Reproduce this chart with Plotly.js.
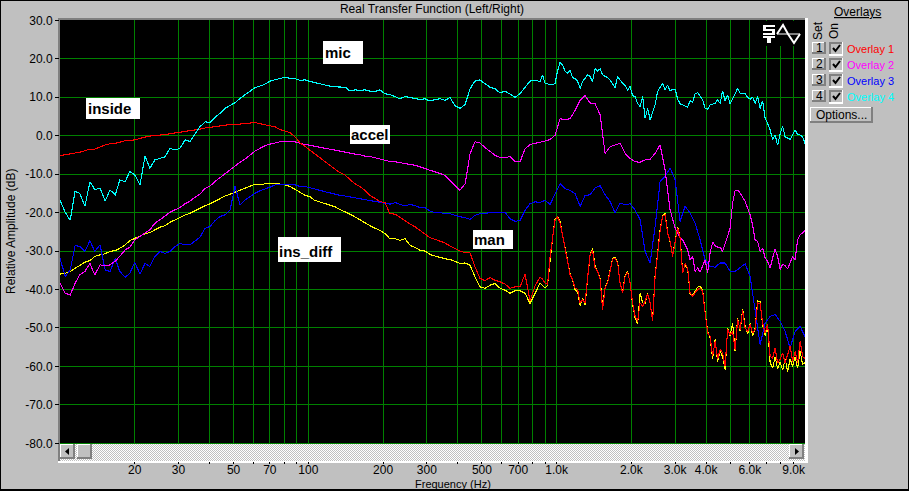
<!DOCTYPE html>
<html><head><meta charset="utf-8">
<script src="https://cdn.plot.ly/plotly-3.0.1.min.js"></script>
<style>
html,body{margin:0;padding:0;background:#c0c0c0;overflow:hidden}
#chart{width:909px;height:491px}
.scatterlayer path.js-line{shape-rendering:crispEdges}
</style></head><body><div id="chart"></div>
<script>
const freqs=[10,10.5,11,11.5,12,12.6,13.2,13.8,14.5,15.2,15.9,16.7,17.4,18.3,19.1,20,21,22,23,24.1,25.3,26.5,27.7,29.1,30.4,31.9,33.4,35,36.6,38.4,40.2,42.1,44.1,46.2,48.4,50.7,53.1,55.6,58.3,61,63.9,66.9,70.1,73.5,76.9,80.6,84.4,88.4,92.6,97,101.6,106,111,117,122,128,134,141,147,154,162,169,177,186,194,204,213,224,234,245,257,269,282,295,309,324,339,355,372,390,408,428,448,469,491,515,539,565,592,620,649,680,712,746,781,819,857,898,941,985,1032,1081,1132,1186,1243,1302,1363,1428,1496,1567,1641,1719,1800,1886,1976,2069,2168,2271,2379,2491,2609,2733,2863,2999,3141,3290,3446,3610,3781,3961,4149,4345,4552,4768,4994,5231,5480,5740,6012,6297,6596,6909,7237,7580,7940,8317,8711,9125,9557,10000];
const hfFreqs=[857,877,898,919,941,963,985,1008,1032,1056,1081,1106,1132,1159,1186,1214,1243,1272,1302,1332,1363,1395,1428,1462,1496,1531,1567,1604,1641,1680,1719,1760,1800,1843,1886,1931,1976,2022,2069,2118,2168,2219,2271,2325,2379,2435,2491,2550,2609,2670,2733,2797,2863,2930,2999,3070,3141,3215,3290,3368,3446,3528,3610,3695,3781,3870,3961,4055,4149,4247,4345,4448,4552,4659,4768,4880,4994,5111,5231,5355,5480,5609,5740,5875,6012,6153,6297,6445,6596,6752,6909,7072,7237,7408,7580,7758,7940,8127,8317,8514,8711,8918,9125,9340,9557,9780,10000];

const mic=[-16.7,-20,-22,-14.5,-15,-18.3,-12,-14,-13.7,-17,-14.1,-15.4,-11.5,-12,-9.3,-10.2,-12.8,-5.3,-8.5,-6.3,-5.9,-5.5,-3.3,-3.7,-3.3,-1.1,-1.5,0.6,2.3,3.6,3.4,4.8,5.8,7.1,7.9,8.6,9.7,10.7,11.7,12.5,12.9,13.4,14.2,14.6,14.9,15.2,14.9,14.8,
14.4,14.5,14.1,13.8,13.5,13.2,12.9,12.7,12.6,12.6,11.6,11.9,11.8,11.9,11.6,11.5,11.9,10.9,10.7,10,9.6,10.2,9.9,9.8,9.4,9.6,9,9.4,9.6,9.2,9.9,7.8,7.1,8.1,12.2,14.2,14.5,13.5,12.6,12.2,11.1,11.6,10.7,10,10.9,12.6,14.2,14.4];
const micHf=[14.1,15.8,13.6,13.5,13.2,13.2,13.6,16.8,19.1,18.4,16.8,16.2,17.1,15.1,14.8,14.2,12.3,14.1,14.9,15.8,15.4,14.1,17.5,16.8,17.4,15.8,15.4,15.1,14.5,13.6,12.5,15.4,14.5,13.6,13,11.9,12.8,10.4,10.2,8.4,7.6,10.2,4.5,7.1,4.1,6.3,8,11.5,12.5,13.6,11.9,13.2,11.6,12.1,12.1,9.5,8.3,8,7.6,7.4,9.1,8.6,10.9,11.2,10.3,9.3,7.1,6.9,8,8.3,8.4,9.3,8.4,11.7,9.1,10.6,8.3,9.5,10.9,12.3,11,11,10.9,10,9.5,10,8.4,10.2,7.1,9.1,4.5,3.2,1.5,-1,0.2,-2.5,0.5,2.4,-0.3,-0.6,-1,0.2,1.5,0.2,0.2,-0.3,-2];

const accel=[-38.4,-41,-41.4,-38.4,-36.2,-35.3,-33.2,-36.2,-33.6,-33.8,-33.6,-32.6,-31.4,-29.7,-29,-27.1,-26.2,-25.4,-24.5,-22.8,-21.9,-20.9,-19.9,-19.3,-18.7,-17.7,-17,-16,-15.2,-13.7,-13.1,-11.9,-10.9,-9.8,-8.9,-7.9,-6.9,-6.1,-5,-4,-3.3,-2.6,-2.2,-1.8,-1.6,-1.6,-1.5,-1.6,
-2,-2.3,-2.5,-2.8,-3,-3.3,-3.5,-3.8,-4.1,-4.3,-4.5,-4.8,-5,-5.3,-5.4,-5.7,-6,-6.4,-6.7,-6.8,-7,-7.3,-7.4,-7.7,-8.1,-8.6,-9,-9.4,-9.9,-10.3,-11.6,-12.9,-14.2,-12.5,-4.7,-1.6,-1.9,-3.1,-4.2,-5.1,-5.7,-5.8,-5.4,-6.8,-6.8,-3.4,-2.3,-1.9,-1.7,-1.4,-1,0.1,4.4,4.2,4.4,6.6,9.2,10.4,8.5,8.3,
5.4,-4.6,-2.9,-2.4,-2,-4.6,-5.9,-6.8,-6.9,-6.3,-6.1,-4.6,-2.4,-8.9,-19.3,-24];
const accelHf=[-26.6,-27.1,-28.6,-29.7,-32.3,-31.4,-35.3,-34.4,-35.5,-34,-32.3,-35.7,-30.5,-27.7,-28.6,-29,-29,-30.1,-28.4,-26.2,-24,-17.5,-14.2,-14.2,-14.9,-16.1,-17.1,-18.8,-20.6,-23.2,-27.1,-27.5,-30.1,-29.2,-31.8,-32.7,-34.4,-31.8,-29.5,-31.4,-34.8,-33.5,-33.8,-34.7,-33.1,-31.4,-32.3,-27.1,-25.8,-25.3,-24.7];

const overlay3=[-31.9,-36.6,-34.9,-28.6,-28.8,-30.1,-27.3,-30.1,-28.4,-34.9,-35.3,-31.9,-35.3,-36.8,-35.8,-32.9,-36,-33.2,-34,-31.4,-30.1,-30.6,-30.1,-28.8,-28,-28.4,-28.4,-27.3,-26.4,-24.1,-23.6,-22.1,-21,-20.6,-19.3,-13.2,-18,-16.7,-15.8,-15,-14.3,-13.9,-13.4,-12.8,-12.6,-12.6,-12.6,-12.8,
-13.2,-13.2,-13.6,-13.8,-14.2,-14.6,-14.9,-15.1,-15.5,-15.7,-15.9,-16.1,-16.4,-16.6,-16.8,-17,-17.2,-17.5,-17.8,-17.4,-17.9,-18.2,-17.9,-18.2,-18.7,-18.7,-19.6,-20,-20,-20.3,-20.3,-20.7,-21.1,-21.3,-21.8,-20.7,-20.3,-20.2,-20,-20,-20.1,-20,-21.6,-22.3,-22,-19.4,-17.7,-17.2,-17.4,-16.8,-17.9,-15.1,-12.5,-13.8,-14.2,-15.1,-18.4,-15.5,-15.4,-13.6,
-13,-15.4,-17.1,-20.1,-17.5,-18,-17.7,-19.3,-21.9,-30.1,-33.1,-23.6,-11.9,-10.6,-8.4,-11.5,-22.3,-18.4,-20.1,-22.7,-27.1,-32.3,-34,-34.2,-33.1,-33.1,-35.3,-35.3,-34.4,-33.3,-36.6,-45.2,-54.3,-48.7,-47,-46.5,-48.3,-50.9,-55.2,-50.9,-49.6,-52.2];

const inside=[-5.2,-5,-4.8,-4.5,-4.3,-3.9,-3.5,-3.5,-2.9,-2.4,-2.1,-2,-1.7,-1.3,-1.2,-1.1,-.7,-.3,-.1,0,.1,.3,.5,.7,.9,1,1.2,1.5,1.7,2,2.2,2.4,2.6,2.8,2.9,2.9,3,3.2,3.3,3.4,3.1,2.9,2.7,2.3,1.6,1.2,.8,-.3,
-1.9,-2.8,-3.8,-4.8,-5.7,-6.7,-7.7,-8.7,-9.6,-10.3,-11.4,-12.5,-13.3,-14.2,-15.5,-16.4,-17.1,-17.5,-20.3,-20.4,-21.3,-22.2,-23,-23.7,-24.8,-25.6,-26.5,-27,-27.4,-27.9,-28.7,-29.4,-30,-30.4,-30.5,-34.1,-37.1,-37.7,-36.9,-37.6,-38,-38.6,-39.7,-39.3,-39.3,-36,-43,-39];
const insideHf=[-36.8,-37.3,-38.3,-38.7,-31.4,-26.6,-21.9,-21.2,-22.7,-25.8,-29.2,-32.7,-36.1,-37.4,-39.6,-40,-43.5,-42.6,-43.5,-37,-31,-29.7,-34.4,-35.3,-37.4,-45.2,-39.6,-38.3,-35.3,-32.1,-31.8,-33.1,-38.3,-40.9,-36.6,-35.5,-38.3,-43.5,-46.8,-48.3,-43.5,-44.4,-43.1,-41.1,-43.5,-48.3,-36.6,-30.5,-24.9,-21,-20.6,-25.3,-27.5,-31.4,-27.9,-24,-26.6,-35.7,-33.3,-34.4,-40.9,-41.8,-40.9,-40,-39.6,-40.5,-46.1,-51.3,-52.2,-57.4,-53.5,-58.1,-55.6,-56.5,-60,-50.4,-51.7,-50.9,-55.6,-47.8,-50.4,-45.4,-50,-50.9,-49.1,-51.3,-50.4,-43.5,-43.7,-48.7,-51.3,-49.1,-57.4,-57.8,-55.2,-59.1,-58.2,-56.5,-59.1,-56.9,-54.8,-58.7,-56.1,-59.1,-53.5,-57.4,-58];

const insDiff=[-36,-35.8,-35.3,-34.5,-33.8,-32.9,-32.5,-31.4,-31,-30.7,-30.1,-29.9,-29.3,-28.4,-27.3,-26.7,-26.1,-25.5,-25.2,-24.5,-23.8,-23.4,-22.5,-21.9,-21.2,-20.6,-20.2,-19.5,-18.7,-18.2,-17.7,-17,-16.3,-15.7,-15.2,-14.7,-14.1,-13.7,-13.1,-12.6,-12.8,-12.5,-12.4,-12.4,-12.6,-12.8,-13.2,-13.9,
-14.6,-15.5,-15.9,-16.8,-17.2,-17.7,-18.1,-18.5,-19.2,-19.8,-20.4,-21.1,-22,-22.7,-23.4,-24.1,-24.6,-25.5,-26.8,-26.8,-27.2,-26.8,-28.5,-29.1,-29.8,-30,-30.9,-31.3,-31.7,-32,-32.2,-32.8,-33.2,-33.1,-33.7,-36.7,-39.3,-39.7,-38.9,-38.4,-39.7,-40.2,-41,-40.3,-40.3,-41,-43.6,-41];
const insDiffHf=[-38.3,-39,-39.6,-38.9,-31.6,-26.5,-21.6,-21,-22.4,-25.5,-29,-32.4,-35.8,-37.5,-40,-40.6,-44.2,-42.2,-44,-37.2,-31,-29.3,-34,-35.2,-37.2,-44.5,-39.4,-38,-35,-31.9,-31.6,-33,-38.2,-40.6,-36.4,-35.3,-38.4,-43.8,-47.3,-49,-41,-43.5,-43.6,-41,-43.7,-47.8,-36.4,-30.4,-24.6,-20.8,-20.3,-25.1,-27.6,-31.2,-27.7,-23.8,-26.4,-35.4,-33.6,-34.6,-41.2,-41.4,-40.5,-39.4,-39.1,-40.2,-46,-51,-52.6,-58,-53,-58.8,-56,-57.5,-60.8,-50.1,-52,-48.7,-56,-47.4,-50.8,-45,-49.6,-51.6,-48.8,-52,-50,-43,-43.2,-49.2,-52,-49.5,-59,-60.5,-57.5,-60.7,-58.8,-61,-58,-61.3,-58,-60,-57.5,-60.5,-56,-59.5,-59];

const overlayNames=["Overlay 1","Overlay 2","Overlay 3","Overlay 4"];
const overlayColors=["#ff0000","#ff00ff","#0000ff","#00ffff"];
const xTickVals=[20,30,40,50,60,70,80,90,100,200,300,400,500,600,700,800,900,1000,2000,3000,4000,5000,6000,7000,8000,9000];
const xTickText=["20","30","","50","","70","","","100","200","300","","500","","700","","","1.0k","2.0k","3.0k","4.0k","","6.0k","","","9.0k"];
const yTickVals=[30,20,10,0,-10,-20,-30,-40,-50,-60,-70,-80];
const yTickText=["30.0","20.0","10.0","0.0","-10.0","-20.0","-30.0","-40.0","-50.0","-60.0","-70.0","-80.0"];
const seriesLabels=[["inside",87,108,86,140,98,119],["mic",324,52,323,363,41,64],["accel",350,134,350,390,125,144],["ins_diff",278,251,278,341,237,262],["man",473,239,473,513,230,249]];

const L=60,R=805,T=20,B=461;
const X=p=>(p-L)/(R-L), Y=p=>(B-p)/(B-T);
const FONT="Liberation Sans, Arial, sans-serif";
const shapes=[];
function rect(x0,y0,x1,y1,fill,layer){shapes.push({type:"rect",xref:"paper",yref:"paper",x0:X(x0),x1:X(x1),y0:Y(y0),y1:Y(y1),fillcolor:fill,line:{width:0},layer:layer||"above"});}
function poly(pts,color,w,fill){
  const d="M"+pts.map(q=>X(q[0])+","+Y(q[1])).join("L")+(fill?"Z":"");
  shapes.push({type:"path",xref:"paper",yref:"paper",path:d,line:{color:color,width:w},fillcolor:fill||"rgba(0,0,0,0)",layer:"above"});
}
function raised(x0,y0,x1,y1,d){
  rect(x0,y0,x1,y1,"#808080");
  rect(x0,y0,x1-d,y1-d,"#ffffff");
  rect(x0+1,y0+1,x1-d,y1-d,"#c0c0c0");
}
// window border
rect(0,0,909,1,"#000000","below"); rect(0,0,1,491,"#000000","below");
rect(0,489,909,491,"#000000","below"); rect(908,0,909,491,"#000000","below");
// plot frame
rect(58,18,807,20,"#808080","below"); rect(58,18,60,461,"#808080","below");
rect(805,18,808,463,"#ffffff","below"); rect(58,461,808,463,"#ffffff","below");
// icon corner
rect(760,21,805,46,"#000000");
rect(763,25,775,35,"#ffffff"); rect(766,27,775,29,"#000000"); rect(763,31,772,33,"#000000");
rect(763,36,775,38,"#ffffff"); rect(767,38,771,43,"#ffffff");
poly([[777,34],[783,25],[788,34],[794,43],[800,34]],"#ffffff",2);
poly([[777,34],[800,34]],"#ffffff",1);
// scrollbar
raised(60,444,75,459,2); raised(77,444,92,459,2); raised(789,444,804,459,2);
poly([[69,448],[69,455],[65,451.5]],"#000000",0,"#000000");
poly([[795,448],[795,455],[799,451.5]],"#000000",0,"#000000");
// series label boxes
const annotations=[];
function text(s,px,py,opt){
  opt=opt||{};
  annotations.push({text:s,x:X(px),y:Y(py),xref:"paper",yref:"paper",showarrow:false,xanchor:opt.xa||"center",yanchor:"middle",textangle:opt.rot||0,
    font:{family:FONT,size:opt.size||12,color:opt.color||"#000000",weight:opt.weight||"normal"},borderpad:0,xshift:0});
}
seriesLabels.forEach(l=>{rect(l[3],l[5],l[4],l[6],"#ffffff");text(l[0],l[1],l[2],{xa:"left",size:15,weight:"bold"});});
// overlay panel
text("<u>Overlays</u>",857,12);
text("Set",818,30,{rot:-90}); text("On",834,31,{rot:-90});
overlayNames.forEach((n,i)=>{
  const y=42+16*i;
  raised(812,y,826,y+12,2);
  text(String(i+1),819,y+6);
  rect(829,y,843,y+14,"#ffffff"); rect(829,y,842,y+12,"#808080"); rect(831,y+2,842,y+12,"#c0c0c0");
  poly([[833,y+6],[835.5,y+9],[840,y+3]],"#000000",2);
  text(n,846,y+7,{xa:"left",size:11,color:overlayColors[i]});
});
raised(810,107,873,123,2);
text("Options...",841,115);
text("Frequency (Hz)",453,484,{size:11});
text("Relative Amplitude (dB)",11,232,{rot:-90});

const line=c=>({color:c,width:1.1,shape:"linear"});
const traces=[
 {name:"ins_diff",x:freqs.slice(0,96).concat(hfFreqs),y:insDiff.concat(insDiffHf),mode:"lines",line:line("#ffff00")},
 {name:"Overlay 3",x:freqs,y:overlay3,mode:"lines",line:line(overlayColors[2])},
 {name:"accel (Overlay 2)",x:freqs.slice(0,124).concat(hfFreqs.slice(56)),y:accel.concat(accelHf),mode:"lines",line:line(overlayColors[1])},
 {name:"inside (Overlay 1)",x:freqs.slice(0,96).concat(hfFreqs),y:inside.concat(insideHf),mode:"lines",line:line(overlayColors[0])},
 {name:"mic (Overlay 4)",x:freqs.slice(0,96).concat(hfFreqs),y:mic.concat(micHf),mode:"lines",line:line(overlayColors[3])}
];
const track="<svg xmlns='http://www.w3.org/2000/svg' width='745' height='17'><defs><pattern id='p' width='2' height='2' patternUnits='userSpaceOnUse'><rect width='2' height='2' fill='#ffffff'/><rect width='1' height='1' fill='#c0c0c0'/><rect x='1' y='1' width='1' height='1' fill='#c0c0c0'/></pattern></defs><rect width='745' height='17' fill='url(#p)'/></svg>";
const layout={
 width:909,height:491,paper_bgcolor:"#c0c0c0",plot_bgcolor:"#000000",showlegend:false,
 margin:{l:L,r:909-R,t:T,b:491-B,pad:0},
 font:{family:FONT,size:12,color:"#000000"},
 title:{text:"Real Transfer Function (Left/Right)",x:X(432),xref:"paper",xanchor:"center",y:1-9/491,yanchor:"middle",font:{family:FONT,size:12,color:"#000000"}},
 xaxis:{type:"log",range:[1,4],tickmode:"array",tickvals:xTickVals,ticktext:xTickText,showgrid:true,gridcolor:"#008000",gridwidth:1,ticks:"outside",ticklen:2,tickcolor:"#000000",tickwidth:1,zeroline:false,showline:false,ticklabelstandoff:-4,tickfont:{family:FONT,size:12,color:"#000000"},tickangle:0},
 yaxis:{range:[-84.6,30.08],tickmode:"array",tickvals:yTickVals,ticktext:yTickText,showgrid:true,gridcolor:"#008000",gridwidth:1,ticks:"outside",ticklen:4,tickcolor:"#000000",tickwidth:1,zeroline:false,showline:false,tickfont:{family:FONT,size:12,color:"#000000"}},
 shapes:shapes,annotations:annotations,
 images:[{source:"data:image/svg+xml,"+encodeURIComponent(track),xref:"paper",yref:"paper",x:X(60),y:Y(444),sizex:X(805)-X(60),sizey:Y(444)-Y(461),xanchor:"left",yanchor:"top",sizing:"stretch",layer:"above"}]
};
Plotly.newPlot("chart",traces,layout,{displayModeBar:false,staticPlot:true});
</script></body></html>
